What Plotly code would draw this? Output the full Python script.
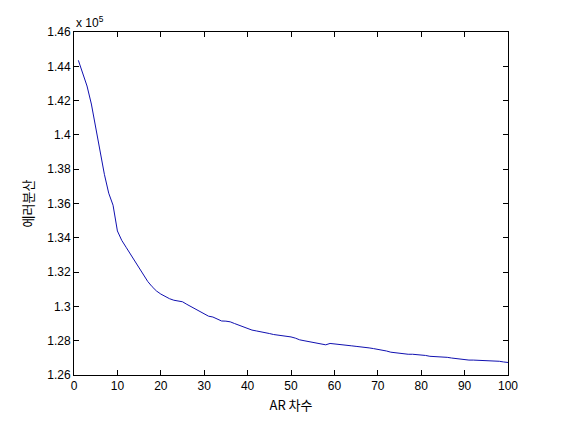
import plotly.graph_objects as go

# AR order vs. error variance (values shown in units of 1e5)
ar_order = list(range(1, 101))
err_var = [
    1.4435, 1.4360, 1.4285, 1.4180, 1.4040, 1.3900, 1.3770, 1.3660, 1.3590, 1.3440,
    1.3385, 1.3345, 1.3305, 1.3265, 1.3225, 1.3180, 1.3145, 1.3115, 1.3090, 1.3072,
    1.3058, 1.3045, 1.3036, 1.3030, 1.3027, 1.3012, 1.2998, 1.2984, 1.2970, 1.2955,
    1.2943, 1.2938, 1.2925, 1.2915, 1.2914, 1.2910, 1.2900, 1.2890, 1.2880, 1.2870,
    1.2862, 1.2857, 1.2853, 1.2850, 1.2842, 1.2836, 1.2833, 1.2829, 1.2827, 1.2822,
    1.2815, 1.2805, 1.2800, 1.2796, 1.2791, 1.2786, 1.2780, 1.2776, 1.2784, 1.2782,
    1.2779, 1.2777, 1.2774, 1.2770, 1.2767, 1.2765, 1.2762, 1.2758, 1.2754, 1.2750,
    1.2747, 1.2740, 1.2733, 1.2729, 1.2727, 1.2724, 1.2721, 1.2721, 1.2720, 1.2719,
    1.2714, 1.2709, 1.2708, 1.2707, 1.2706, 1.2703, 1.2699, 1.2695, 1.2691, 1.2688,
    1.2687, 1.2687, 1.2686, 1.2686, 1.2684, 1.2682, 1.2681, 1.2680, 1.2676, 1.2673,
]

x_ticks = [0, 10, 20, 30, 40, 50, 60, 70, 80, 90, 100]
y_ticks = [1.26, 1.28, 1.30, 1.32, 1.34, 1.36, 1.38, 1.40, 1.42, 1.44, 1.46]
y_tick_labels = ["1.26", "1.28", "1.3", "1.32", "1.34", "1.36", "1.38", "1.4", "1.42", "1.44", "1.46"]

fig = go.Figure()
fig.add_trace(go.Scatter(
    x=ar_order,
    y=err_var,
    mode="lines",
    line=dict(color="#1010b0", width=1),
    showlegend=False,
))

axis_style = dict(
    showline=True,
    linecolor="black",
    linewidth=1,
    mirror="ticks",
    ticks="inside",
    ticklen=5,
    tickcolor="black",
    showgrid=False,
    zeroline=False,
    tickfont=dict(family="Liberation Sans, Arial", size=12, color="black"),
)

fig.update_xaxes(
    range=[0, 100],
    tickvals=x_ticks,
    title=dict(text="AR 차수", font=dict(family="Noto Sans CJK KR", size=13, color="black"), standoff=8),
    **axis_style
)
fig.update_yaxes(
    range=[1.26, 1.46],
    tickvals=y_ticks,
    ticktext=y_tick_labels,
    title=dict(text="에러분산", font=dict(family="Noto Sans CJK KR", size=13, color="black"), standoff=10),
    **axis_style
)

fig.add_annotation(
    text="x 10<sup>5</sup>",
    xref="paper", yref="paper",
    x=0, y=1,
    xanchor="left", yanchor="bottom",
    showarrow=False,
    font=dict(family="Liberation Sans, Arial", size=12, color="black"),
)

# page body adds an 8px offset, so margins are shifted to keep the plot box in place
fig.update_layout(
    width=562,
    height=422,
    margin=dict(l=66, r=62, t=24, b=55),
    plot_bgcolor="white",
    paper_bgcolor="white",
)

fig.write_html("out.html")
